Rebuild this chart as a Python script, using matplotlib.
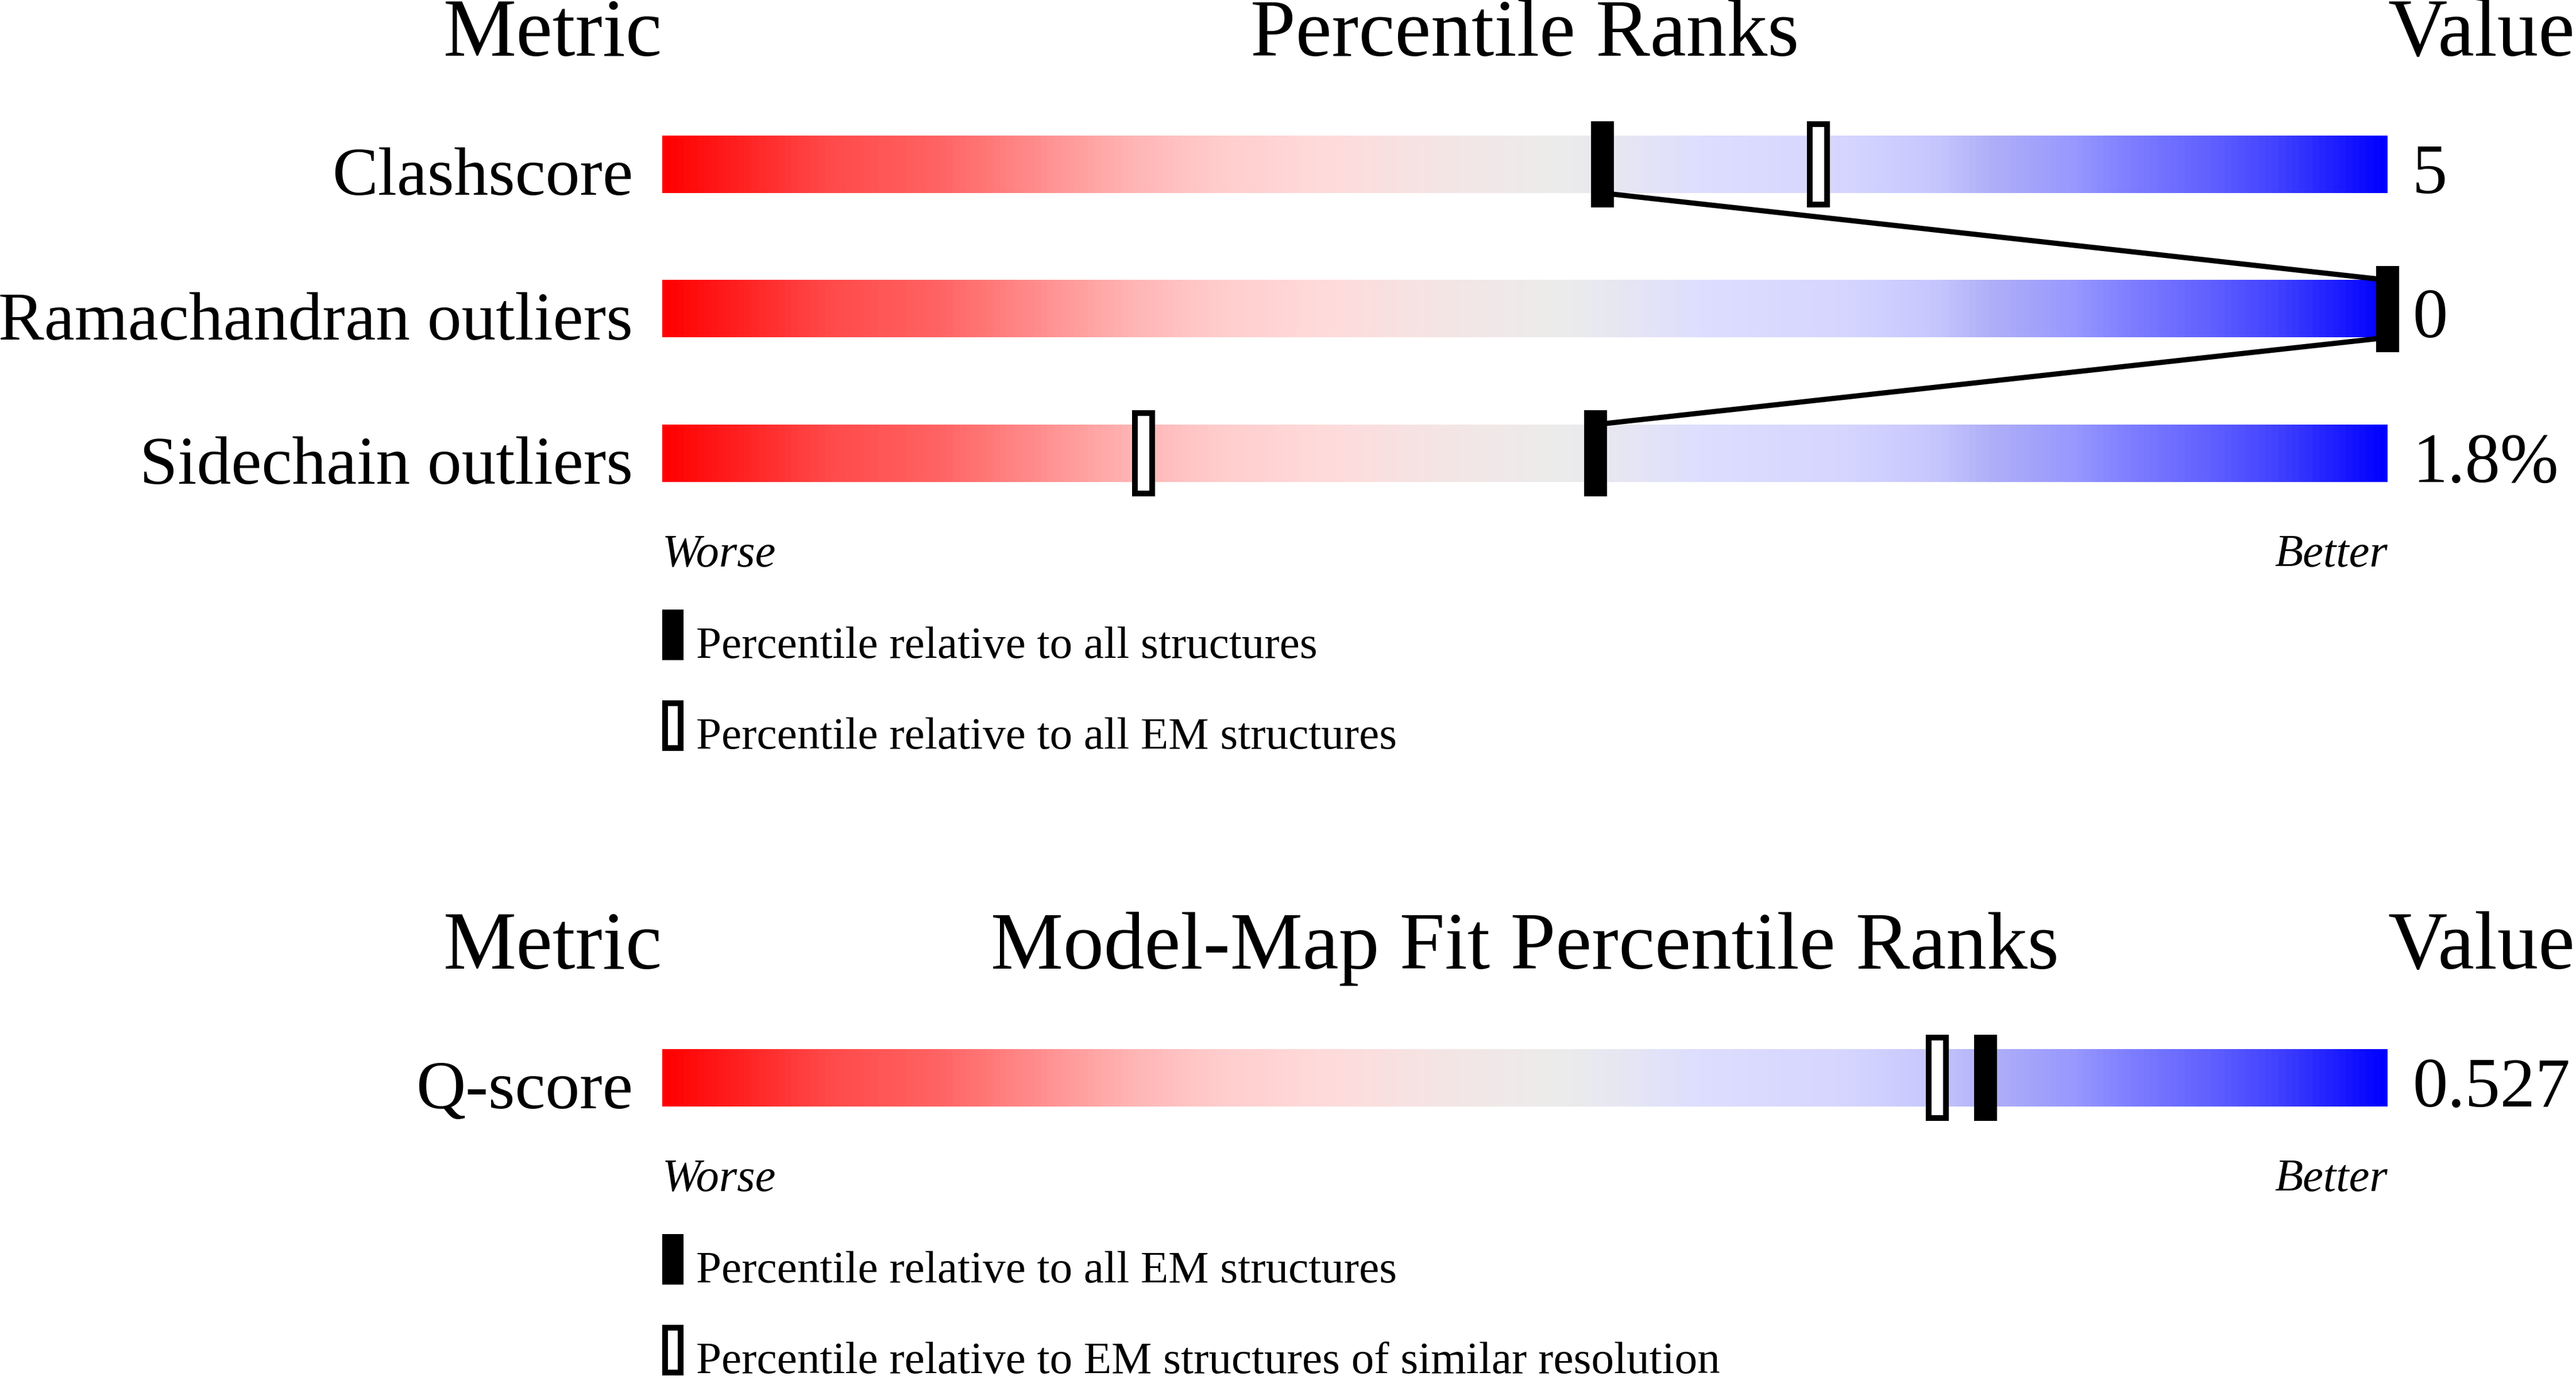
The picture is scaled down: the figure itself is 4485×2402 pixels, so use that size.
"""
Validation slider chart: percentile ranks for model geometry and model-map fit.
"""

import numpy as np
import matplotlib
matplotlib.use('Agg')
import matplotlib.pyplot as plt
from matplotlib.colors import LinearSegmentedColormap

###############################################################################
### Chart data
metrics = ['Clashscore', 'Ramachandran outliers', 'Sidechain outliers']
metric_values = ['5', '0', '1.8%']
pct_all = [54.5, 100.0, 54.1]      # filled marker
pct_em = [67.0, 100.0, 27.9]       # open marker
legend_top = ['Percentile relative to all structures',
              'Percentile relative to all EM structures']

fit_metrics = ['Q-score']
fit_values = ['0.527']
fit_pct_em = [76.7]                # filled marker
fit_pct_res = [73.9]               # open marker
legend_bottom = ['Percentile relative to all EM structures',
                 'Percentile relative to EM structures of similar resolution']

# colour stops of the slider (position, colour)
grad_stops = [(0.0, '#ff0000'), (0.095, '#ff4a4a'), (0.16, '#ff6464'),
              (0.22, '#ff9090'), (0.27, '#ffb4b4'), (0.32, '#ffcccc'),
              (0.38, '#ffdada'), (0.45, '#f5e5e5'), (0.52, '#ececec'),
              (0.56, '#e6e6f4'), (0.60, '#dedeff'), (0.69, '#d5d5ff'),
              (0.74, '#c6c6ff'), (0.77, '#b0b0f8'), (0.82, '#9898ff'),
              (0.85, '#8080ff'), (0.90, '#6060ff'), (0.94, '#4040ff'),
              (1.0, '#0000ff')]
###############################################################################

### Layout in pixels of the output image
W, H = 4485, 2402
DPI = 100
BAR_L, BAR_R = 1153, 4157
BAR_H = 100
MARK_W, MARK_H = 40, 150
OPEN_EDGE = 10
FONT = 'Liberation Serif'


def xp(px):
    # pixel column -> percentile units of the slider axes
    return (px - BAR_L) / (BAR_R - BAR_L) * 100


def pt(px):
    return px * 72 / DPI


def main():
    plt.rcParams['font.family'] = FONT
    fig = plt.figure(figsize=(W / DPI, H / DPI), dpi=DPI)
    ax = fig.add_axes([BAR_L / W, 0, (BAR_R - BAR_L) / W, 1])
    cmap = LinearSegmentedColormap.from_list('slider', grad_stops)

    draw_panel(ax, cmap, 97, 286, metrics, metric_values, pct_all, pct_em,
               'Percentile Ranks', legend_top, connect=True)
    draw_panel(ax, cmap, 1686, 1876, fit_metrics, fit_values, fit_pct_em,
               fit_pct_res, 'Model-Map Fit Percentile Ranks', legend_bottom,
               connect=False)

    ax.set_xlim(0, 100)
    ax.set_ylim(H, 0)
    ax.axis('off')
    fig.savefig('out.png', dpi=DPI)


def draw_panel(ax, cmap, head_y, first_row, names, values, filled, hollow,
               title, legend, connect):
    row_step = 251.5
    rows = [first_row + i * row_step for i in range(len(names))]
    grad = np.linspace(0, 1, 600).reshape(1, -1)

    # headers
    ax.text(xp(BAR_L), head_y, 'Metric', ha='right', va='baseline', fontsize=103)
    ax.text(50, head_y, title, ha='center', va='baseline', fontsize=102)
    ax.text(xp(BAR_R), head_y, 'Value', ha='left', va='baseline', fontsize=103)

    for name, val, yc in zip(names, values, rows):
        ax.imshow(grad, cmap=cmap, aspect='auto', interpolation='bilinear',
                  extent=(0, 100, yc + BAR_H / 2, yc - BAR_H / 2), zorder=1)
        ax.text(xp(1102), yc + 53, name, ha='right', va='baseline', fontsize=86)
        ax.text(xp(4200), yc + 50, val, ha='left', va='baseline', fontsize=88)

    # lines between the filled markers
    if connect:
        for i in range(len(rows) - 1):
            ax.plot([filled[i], filled[i + 1]],
                    [rows[i] + BAR_H / 2, rows[i + 1] - BAR_H / 2],
                    color='black', lw=6.5, solid_capstyle='butt', zorder=2)

    mw = xp(BAR_L + MARK_W)
    ow = xp(BAR_L + MARK_W - OPEN_EDGE)
    for p, yc in zip(hollow, rows):
        ax.bar(p, MARK_H - OPEN_EDGE, width=ow, bottom=yc - (MARK_H - OPEN_EDGE) / 2,
               facecolor='white', edgecolor='black', linewidth=pt(OPEN_EDGE),
               zorder=3, clip_on=False)
    for p, yc in zip(filled, rows):
        ax.bar(p, MARK_H, width=mw, bottom=yc - MARK_H / 2, color='black',
               linewidth=0, zorder=4, clip_on=False)

    # worse / better
    wy = rows[-1] + 197
    ax.text(0, wy, 'Worse', ha='left', va='baseline', fontsize=58, style='italic')
    ax.text(100, wy, 'Better', ha='right', va='baseline', fontsize=58, style='italic')

    # legend
    lw_ = xp(BAR_L + 37)
    for k, label in enumerate(legend):
        top = wy + 75 + k * 158
        if k == 0:
            ax.bar(lw_ / 2, 88, width=lw_, bottom=top, color='black',
                   linewidth=0, align='center', zorder=4)
        else:
            ax.bar(lw_ / 2, 78, width=xp(BAR_L + 27), bottom=top + 5,
                   facecolor='white', edgecolor='black', linewidth=pt(OPEN_EDGE),
                   zorder=4)
        ax.text(xp(1212), top + 84, label, ha='left', va='baseline', fontsize=57)


if __name__ == '__main__':
    main()
